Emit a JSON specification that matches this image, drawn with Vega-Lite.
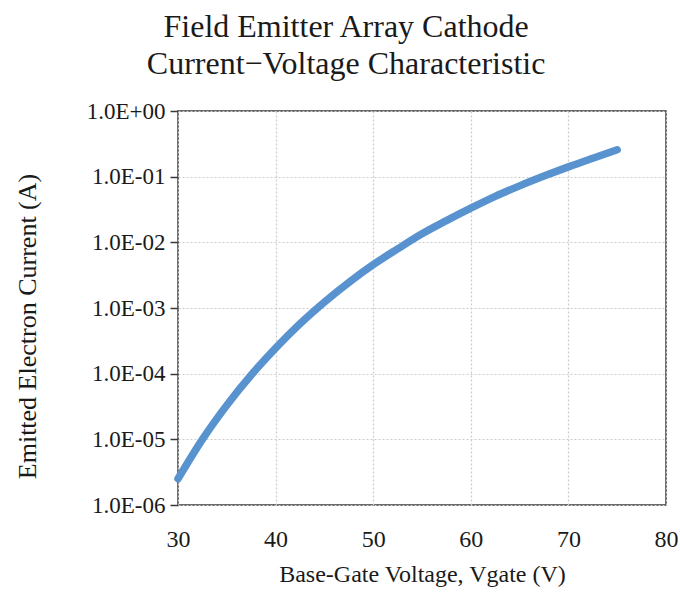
{
  "$schema": "https://vega.github.io/schema/vega-lite/v6.json",
  "autosize": "none",
  "padding": {"left": 178, "top": 111, "right": 14, "bottom": 93},
  "width": 488,
  "height": 394,
  "background": "white",
  "title": {
    "text": ["Field Emitter Array Cathode", "Current\u2212Voltage Characteristic"],
    "font": "Liberation Serif",
    "fontSize": 32,
    "fontWeight": "normal",
    "color": "#1a1a1a",
    "lineHeight": 37,
    "anchor": "middle",
    "frame": "bounds",
    "offset": 19
  },
  "config": {
    "view": {"stroke": "#3a3a3a", "strokeWidth": 1.5},
    "axis": {
      "labelFont": "Liberation Serif",
      "titleFont": "Liberation Serif",
      "labelColor": "#1a1a1a",
      "titleColor": "#1a1a1a",
      "titleFontWeight": "normal",
      "gridColor": "#cccccc",
      "gridDash": [2, 2],
      "gridWidth": 1.2,
      "domain": false
    }
  },
  "data": {
    "values": [
      {"v": 30, "i": 2.51e-6},
      {"v": 32.5, "i": 1.0e-5},
      {"v": 35, "i": 3.31e-5},
      {"v": 37.5, "i": 9.55e-5},
      {"v": 40, "i": 2.45e-4},
      {"v": 42.5, "i": 5.75e-4},
      {"v": 45, "i": 1.23e-3},
      {"v": 47.5, "i": 2.45e-3},
      {"v": 50, "i": 4.57e-3},
      {"v": 52.5, "i": 7.94e-3},
      {"v": 55, "i": 1.35e-2},
      {"v": 57.5, "i": 2.14e-2},
      {"v": 60, "i": 3.31e-2},
      {"v": 62.5, "i": 5.01e-2},
      {"v": 65, "i": 7.24e-2},
      {"v": 67.5, "i": 0.102},
      {"v": 70, "i": 0.141},
      {"v": 72.5, "i": 0.191},
      {"v": 75, "i": 0.257}
    ]
  },
  "mark": {"type": "line", "color": "#5893d0", "strokeWidth": 7.5, "strokeCap": "round", "interpolate": "monotone"},
  "encoding": {
    "x": {
      "field": "v",
      "type": "quantitative",
      "scale": {"domain": [30, 80], "nice": false, "zero": false},
      "axis": {
        "title": "Base-Gate Voltage, Vgate (V)",
        "values": [30, 40, 50, 60, 70, 80],
        "ticks": false,
        "labelFont": "Liberation Serif",
        "titleFont": "Liberation Serif",
        "labelFontSize": 24,
        "labelPadding": 22,
        "titleFontSize": 24,
        "titlePadding": 11,
        "labelFlush": false
      }
    },
    "y": {
      "field": "i",
      "type": "quantitative",
      "scale": {"type": "log", "domain": [1e-6, 1], "nice": false},
      "axis": {
        "title": "Emitted Electron Current (A)",
        "values": [1e-6, 1e-5, 1e-4, 1e-3, 1e-2, 1e-1, 1],
        "labelExpr": "'1.0E' + (round(log(datum.value)/LN10) < 0 ? '-' : '+') + (abs(round(log(datum.value)/LN10)) < 10 ? '0' : '') + abs(round(log(datum.value)/LN10))",
        "tickSize": 8,
        "tickColor": "#3a3a3a",
        "tickWidth": 1.5,
        "labelFont": "Liberation Serif",
        "titleFont": "Liberation Serif",
        "labelFontSize": 23,
        "labelPadding": 5,
        "titleFontSize": 26,
        "titlePadding": 46,
        "titleY": 215,
        "labelFlush": false
      }
    }
  }
}
